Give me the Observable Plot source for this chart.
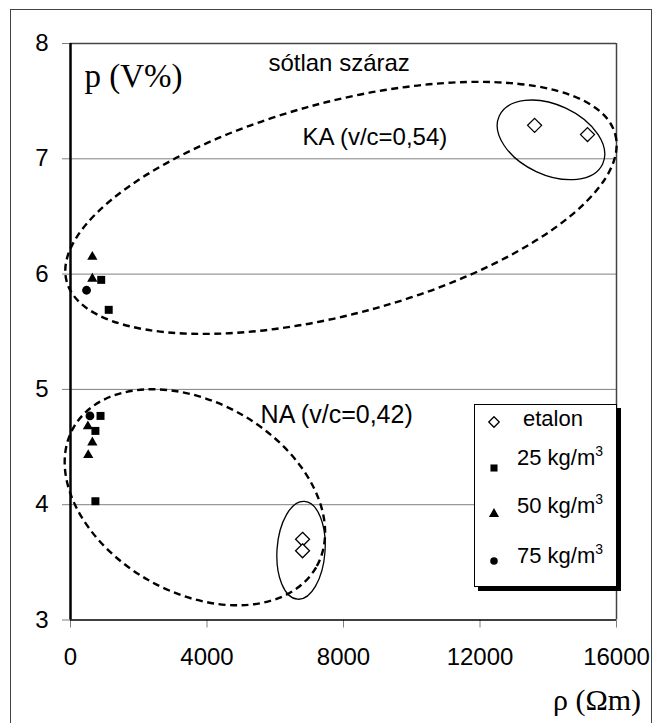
<!DOCTYPE html>
<html>
<head>
<meta charset="utf-8">
<script src="https://cdn.jsdelivr.net/npm/d3@7"></script>
<script src="https://cdn.jsdelivr.net/npm/@observablehq/plot@0.6"></script>
<style>
  html, body { margin: 0; padding: 0; background: #fff; }
  #figure { position: relative; width: 653px; height: 723px; overflow: hidden;
            font-family: "Liberation Sans", Arial, sans-serif; }
  #border { position: absolute; left: 10px; top: 9px; width: 642px; height: 740px;
            border: 1.5px solid #444; box-sizing: border-box; }
  #figure svg.chart { position: absolute; left: 0; top: 0; }
  #legend { position: absolute; left: 474px; top: 404px; width: 143px; height: 183px;
            border: 1px solid #000; box-shadow: 4px 4px 0 #000; background: #fff;
            box-sizing: border-box; font-size: 22px; color: #000; }
  #legend .sym { position: absolute; left: 8px; }
  #legend .lbl { position: absolute; white-space: nowrap; line-height: 1; }
  #legend sup { font-size: 14px; vertical-align: 0; position: relative; top: -9px; }
</style>
</head>
<body>
<div id="figure"><div id="border"></div></div>
<script>
// Porosity p (V%) against resistivity ρ (Ωm), grouped by salt dosage
const seriesNames = ["etalon", "25 kg/m3", "50 kg/m3", "75 kg/m3"];

const etalonRho = [13600, 15150, 6800, 6800];
const etalonP   = [7.29, 7.21, 3.70, 3.60];

const kg25Rho = [900, 1120, 880, 730, 730];
const kg25P   = [5.95, 5.69, 4.77, 4.64, 4.03];

const kg50Rho = [640, 640, 510, 640, 520];
const kg50P   = [6.15, 5.96, 4.68, 4.54, 4.43];

const kg75Rho = [470, 570];
const kg75P   = [5.86, 4.77];

const xTicks = [0, 4000, 8000, 12000, 16000];
const yTicks = [3, 4, 5, 6, 7, 8];
const gridValues = [4, 5, 6, 7];

const titleText = "sótlan száraz";
const groupLabels = ["KA (v/c=0,54)", "NA (v/c=0,42)"];
const yLabel = "p (V%)";
const xLabel = "ρ (Ωm)";

// group outlines drawn around the clusters: centre in data units, half-axes in px
const outlines = [
  {rho: 7940,  p: 6.57, a: 284, b: 106, angle: -15, dashed: true},
  {rho: 3660,  p: 4.06, a: 140, b: 95,  angle: 30,  dashed: true},
  {rho: 14095, p: 7.16, a: 57,  b: 35,  angle: 25,  dashed: false},
  {rho: 6770,  p: 3.60, a: 24,  b: 49,  angle: 4,   dashed: false}
];

const rows = (rhos, ps, name) => rhos.map((rho, i) => ({rho, p: ps[i], series: name}));
const etalon = rows(etalonRho, etalonP, seriesNames[0]);
const kg25 = rows(kg25Rho, kg25P, seriesNames[1]);
const kg50 = rows(kg50Rho, kg50P, seriesNames[2]);
const kg75 = rows(kg75Rho, kg75P, seriesNames[3]);

const grey = "#808080";
const dark = "#444";
const serif = "'Liberation Serif', 'Times New Roman', serif";

const chart = Plot.plot({
  width: 653,
  height: 723,
  marginLeft: 70,
  marginTop: 43,
  marginRight: 37,
  marginBottom: 103.5,
  x: {domain: [0, 16000], axis: null},
  y: {domain: [3, 8], axis: null},
  style: {fontFamily: "'Liberation Sans', Arial, sans-serif", background: "transparent", overflow: "visible"},
  marks: [
    Plot.ruleY(gridValues, {stroke: grey, strokeWidth: 1}),
    Plot.ruleY([8], {stroke: dark, strokeWidth: 1.5}),
    Plot.ruleX([16000], {stroke: dark, strokeWidth: 1.5}),
    Plot.axisY({ticks: yTicks, tickSize: 8, tickPadding: 14, fontSize: 24, stroke: grey, fill: "#000",
                tickFormat: d => String(d), label: null}),
    Plot.axisX({ticks: xTicks, tickSize: 8, tickPadding: 20, fontSize: 24, stroke: grey, fill: "#000",
                tickFormat: d => String(d), label: null}),
    Plot.ruleX([0], {stroke: "#000", strokeWidth: 2.5}),
    Plot.ruleY([3], {stroke: "#000", strokeWidth: 1.5}),

    // cluster outlines
    Plot.dot(outlines, {
      x: "rho", y: "p",
      render(index, scales, values) {
        const g = d3.create("svg:g").attr("fill", "none").attr("stroke", "#000");
        for (const i of index) {
          const o = outlines[i];
          const cx = values.x[i], cy = values.y[i];
          g.append("ellipse")
            .attr("cx", cx).attr("cy", cy)
            .attr("rx", o.a).attr("ry", o.b)
            .attr("transform", `rotate(${o.angle} ${cx} ${cy})`)
            .attr("stroke-width", o.dashed ? 2.4 : 1.3)
            .attr("stroke-dasharray", o.dashed ? "7,4.5" : null);
        }
        return g.node();
      }
    }),

    Plot.dot(etalon, {x: "rho", y: "p", symbol: "diamond2", r: 6.3, fill: "#fff", stroke: "#000", strokeWidth: 1.3}),
    Plot.dot(kg25, {x: "rho", y: "p", symbol: "square", r: 4.5, fill: "#000"}),
    Plot.dot(kg50, {x: "rho", y: "p", symbol: "triangle", r: 3.8, fill: "#000"}),
    Plot.dot(kg75, {x: "rho", y: "p", symbol: "circle", r: 4.4, fill: "#000"}),

    Plot.text([titleText], {x: 5800, y: 7.826, text: d => d, textAnchor: "start", lineAnchor: "middle", fontSize: 24, fill: "#000"}),
    Plot.text([groupLabels[0]], {x: 6800, y: 7.185, text: d => d, textAnchor: "start", lineAnchor: "middle", fontSize: 24, fill: "#000"}),
    Plot.text([groupLabels[1]], {x: 5570, y: 4.774, text: d => d, textAnchor: "start", lineAnchor: "middle", fontSize: 25, fill: "#000"}),
    Plot.text([yLabel], {x: 410, y: 7.71, text: d => d, textAnchor: "start", lineAnchor: "middle", fontSize: 33,
                         fontFamily: serif, fill: "#000"}),
    Plot.text([xLabel], {x: 16720, y: 2.30, text: d => d, textAnchor: "end", lineAnchor: "middle", fontSize: 30,
                         fontFamily: serif, fill: "#000"})
  ]
});
chart.classList.add("chart");
const fig = document.getElementById("figure");
fig.appendChild(chart);

// legend box with drop shadow
const legend = document.createElement("div");
legend.id = "legend";
const legendSymbols = [
  {type: d3.symbolDiamond2, size: 70, fill: "#fff", stroke: "#000"},
  {type: d3.symbolSquare, size: 50, fill: "#000", stroke: "none"},
  {type: d3.symbolTriangle, size: 45, fill: "#000", stroke: "none"},
  {type: d3.symbolCircle, size: 45, fill: "#000", stroke: "none"}
];
const symbolY = [17, 63, 109, 156];
const textY = [14, 53, 101, 151];
seriesNames.forEach((name, i) => {
  const s = legendSymbols[i];
  const svg = d3.create("svg").attr("width", 22).attr("height", 22)
    .attr("class", "sym").style("top", (symbolY[i] - 11) + "px");
  svg.append("path").attr("transform", "translate(11,11)")
    .attr("d", d3.symbol(s.type, s.size)())
    .attr("fill", s.fill).attr("stroke", s.stroke).attr("stroke-width", 1.3);
  legend.appendChild(svg.node());
  const lbl = document.createElement("div");
  lbl.className = "lbl";
  lbl.style.left = (i === 0 ? 48 : 42) + "px";
  lbl.style.top = (textY[i] - 11) + "px";
  const m = name.match(/^(.*)3$/);
  if (m) {
    lbl.append(m[1]);
    const sup = document.createElement("sup");
    sup.textContent = "3";
    lbl.appendChild(sup);
  } else {
    lbl.textContent = name;
  }
  legend.appendChild(lbl);
});
fig.appendChild(legend);
</script>
</body>
</html>
